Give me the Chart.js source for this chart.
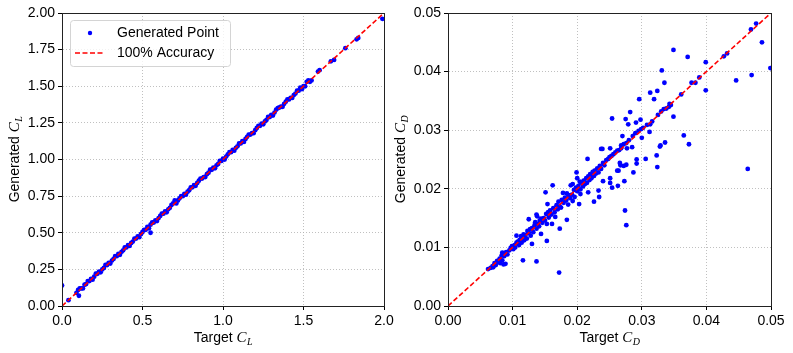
<!DOCTYPE html>
<html>
<head>
<meta charset="utf-8">
<script src="https://cdn.jsdelivr.net/npm/chart.js@4"></script>
<style>
  body { margin: 0; background: #fff; }
  #wrap { position: relative; width: 793px; height: 353px; }
  canvas { position: absolute; top: 0; }
  #clChart { left: 0; }
  #cdChart { left: 388px; }
</style>
</head>
<body>
<div id="wrap">
  <canvas id="clChart" width="400" height="353"></canvas>
  <canvas id="cdChart" width="405" height="353"></canvas>
</div>
<script>
// Lift coefficient: target vs generated
const clTarget = [
  0.00, 0.04, 0.09, 0.10, 0.105, 0.11, 0.12, 0.14, 0.15, 0.17,
  0.18, 0.20, 0.22, 0.23, 0.25, 0.26, 0.28, 0.29, 0.31, 0.32,
  0.34, 0.35, 0.37, 0.38, 0.40, 0.41, 0.43, 0.44, 0.46, 0.47,
  0.49, 0.50, 0.52, 0.53, 0.55, 0.55, 0.57, 0.58, 0.60, 0.61,
  0.63, 0.64, 0.66, 0.67, 0.69, 0.70, 0.72, 0.73, 0.75, 0.76,
  0.78, 0.79, 0.81, 0.82, 0.84, 0.85, 0.87, 0.88, 0.90, 0.91,
  0.93, 0.94, 0.96, 0.97, 0.99, 1.00, 1.02, 1.03, 1.05, 1.06,
  1.08, 1.09, 1.11, 1.12, 1.14, 1.15, 1.17, 1.18, 1.20, 1.21,
  1.23, 1.24, 1.26, 1.27, 1.29, 1.30, 1.32, 1.33, 1.35, 1.36,
  1.38, 1.39, 1.41, 1.42, 1.44, 1.45, 1.47, 1.48, 1.50, 1.51,
  1.53, 1.54, 1.55, 1.59, 1.60, 1.67, 1.69, 1.76, 1.83, 1.84,
  1.99,
  0.13, 0.16, 0.19, 0.21, 0.24, 0.27, 0.30, 0.33, 0.36, 0.39,
  0.42, 0.45, 0.48, 0.51, 0.54, 0.56, 0.59, 0.62, 0.65, 0.68,
  0.71, 0.74, 0.77, 0.80, 0.83, 0.86, 0.89, 0.92, 0.95, 0.98,
  1.01, 1.04, 1.07, 1.10, 1.13, 1.16, 1.19, 1.22, 1.25, 1.28,
  1.31, 1.34, 1.37, 1.40, 1.43, 1.46, 1.49, 1.52
];
const clGenerated = [
  0.14, 0.04, 0.09, 0.11, 0.07, 0.12, 0.12, 0.145, 0.15, 0.17,
  0.185, 0.20, 0.22, 0.235, 0.25, 0.26, 0.28, 0.295, 0.31, 0.32,
  0.34, 0.355, 0.37, 0.38, 0.40, 0.415, 0.43, 0.44, 0.46, 0.475,
  0.49, 0.505, 0.52, 0.54, 0.50, 0.555, 0.57, 0.585, 0.60, 0.615,
  0.63, 0.645, 0.66, 0.67, 0.70, 0.72, 0.72, 0.735, 0.75, 0.765,
  0.78, 0.79, 0.81, 0.825, 0.84, 0.855, 0.87, 0.88, 0.90, 0.91,
  0.93, 0.945, 0.96, 0.97, 0.99, 1.005, 1.02, 1.035, 1.05, 1.065,
  1.08, 1.09, 1.11, 1.125, 1.14, 1.155, 1.17, 1.18, 1.20, 1.215,
  1.23, 1.245, 1.26, 1.27, 1.29, 1.305, 1.32, 1.34, 1.355, 1.36,
  1.38, 1.395, 1.41, 1.42, 1.44, 1.45, 1.47, 1.49, 1.50, 1.50,
  1.54, 1.53, 1.54, 1.60, 1.61, 1.67, 1.68, 1.76, 1.82, 1.83,
  1.96,
  0.12, 0.17, 0.18, 0.22, 0.23, 0.28, 0.29, 0.34, 0.35, 0.40,
  0.41, 0.46, 0.47, 0.52, 0.53, 0.57, 0.58, 0.63, 0.64, 0.69,
  0.70, 0.75, 0.76, 0.81, 0.82, 0.87, 0.88, 0.93, 0.94, 0.99,
  1.00, 1.05, 1.06, 1.11, 1.12, 1.17, 1.18, 1.23, 1.24, 1.29,
  1.30, 1.35, 1.36, 1.41, 1.42, 1.47, 1.48, 1.53
];

// Drag coefficient: target vs generated
const cdTarget = [
  0.0062, 0.0066, 0.0069, 0.0070, 0.0072, 0.0074, 0.0076, 0.0078, 0.0080, 0.0081,
  0.0083, 0.0084, 0.0085, 0.0087, 0.0089, 0.0090, 0.0092, 0.0095, 0.0097, 0.0099,
  0.0101, 0.0103, 0.0104, 0.0106, 0.0108, 0.0110, 0.0111, 0.0113, 0.0114, 0.0116,
  0.0117, 0.0118, 0.0120, 0.0122, 0.0123, 0.0125, 0.0127, 0.0128, 0.0130, 0.0132,
  0.0134, 0.0135, 0.0137, 0.0138, 0.0139, 0.0141, 0.0142, 0.0144, 0.0146, 0.0148,
  0.0150, 0.0152, 0.0153, 0.0155, 0.0156, 0.0158, 0.0160, 0.0161, 0.0163, 0.0165,
  0.0166, 0.0168, 0.0170, 0.0171, 0.0173, 0.0175, 0.0176, 0.0178, 0.0179, 0.0181,
  0.0183, 0.0184, 0.0186, 0.0187, 0.0189, 0.0190, 0.0192, 0.0193, 0.0195, 0.0196,
  0.0198, 0.0200, 0.0202, 0.0204, 0.0205, 0.0207, 0.0209, 0.0210, 0.0212, 0.0214,
  0.0215, 0.0217, 0.0219, 0.0220, 0.0222, 0.0224, 0.0226, 0.0227, 0.0229, 0.0231,
  0.0233, 0.0235, 0.0237, 0.0240, 0.0242, 0.0245, 0.0248, 0.0250, 0.0253, 0.0256,
  0.0259, 0.0262, 0.0265, 0.0268, 0.0272, 0.0276, 0.0280, 0.0286, 0.0290, 0.0295,
  0.0299, 0.0302, 0.0308, 0.0316, 0.0325, 0.0330, 0.0334, 0.0338, 0.0342, 0.0345,
  0.0349, 0.0371, 0.0469, 0.0477, 0.0486, 0.0499, 0.0446, 0.0470, 0.0427, 0.0432,
  0.0399, 0.0399, 0.0389, 0.0377, 0.0383, 0.0361, 0.0331, 0.0335, 0.0313, 0.0324,
  0.0319, 0.0296, 0.0343, 0.0349, 0.0282, 0.0254, 0.0275, 0.0279, 0.0291, 0.0298,
  0.0313, 0.0312, 0.0300, 0.0365, 0.0373, 0.0336, 0.0329, 0.0328, 0.0285, 0.0270,
  0.0268, 0.0277, 0.0237, 0.0239, 0.0251, 0.0323, 0.0306, 0.0324, 0.0292, 0.0292,
  0.0287, 0.0464, 0.0276, 0.0272, 0.0266, 0.0267, 0.0262, 0.0264, 0.0273, 0.0263,
  0.0251, 0.0251, 0.0254, 0.0240, 0.0233, 0.0234, 0.0226, 0.0217, 0.0274, 0.0276,
  0.0216, 0.0199, 0.0200, 0.0193, 0.0205, 0.0203, 0.0184, 0.0173, 0.0172, 0.0162,
  0.0151, 0.0154, 0.0153, 0.0144, 0.0137, 0.0116, 0.0130, 0.0125, 0.0137, 0.0106,
  0.0084, 0.0086
];
const cdGenerated = [
  0.0063, 0.0065, 0.0068, 0.0066, 0.0073, 0.0070, 0.0077, 0.0075, 0.0081, 0.0073,
  0.0086, 0.0078, 0.0090, 0.0085, 0.0072, 0.0092, 0.0088, 0.0095, 0.0099, 0.0102,
  0.0097, 0.0104, 0.0100, 0.0108, 0.0110, 0.0104, 0.0113, 0.0119, 0.0108, 0.0117,
  0.0122, 0.0112, 0.0121, 0.0115, 0.0128, 0.0125, 0.0131, 0.0120, 0.0133, 0.0126,
  0.0138, 0.0143, 0.0132, 0.0153, 0.0140, 0.0136, 0.0146, 0.0149, 0.0142, 0.0150,
  0.0146, 0.0157, 0.0140, 0.0160, 0.0151, 0.0163, 0.0156, 0.0140, 0.0167, 0.0160,
  0.0152, 0.0172, 0.0165, 0.0178, 0.0170, 0.0168, 0.0181, 0.0193, 0.0176, 0.0185,
  0.0180, 0.0192, 0.0173, 0.0189, 0.0184, 0.0206, 0.0190, 0.0179, 0.0198, 0.0186,
  0.0202, 0.0196, 0.0205, 0.0212, 0.0199, 0.0210, 0.0204, 0.0214, 0.0208, 0.0218,
  0.0210, 0.0221, 0.0215, 0.0225, 0.0218, 0.0229, 0.0222, 0.0231, 0.0226, 0.0235,
  0.0228, 0.0239, 0.0234, 0.0244, 0.0240, 0.0249, 0.0251, 0.0254, 0.0256, 0.0259,
  0.0262, 0.0265, 0.0266, 0.0269, 0.0276, 0.0278, 0.0283, 0.0290, 0.0295, 0.0299,
  0.0302, 0.0304, 0.0309, 0.0315, 0.0326, 0.0332, 0.0336, 0.0337, 0.0340, 0.0343,
  0.0437, 0.0425, 0.0472, 0.0482, 0.0450, 0.0406, 0.0385, 0.0394, 0.0426, 0.0431,
  0.0416, 0.0368, 0.0390, 0.0381, 0.0381, 0.0361, 0.0402, 0.0381, 0.0364, 0.0367,
  0.0353, 0.0353, 0.0345, 0.0323, 0.0331, 0.0320, 0.0319, 0.0310, 0.0313, 0.0318,
  0.0310, 0.0297, 0.0287, 0.0291, 0.0276, 0.0279, 0.0274, 0.0272, 0.0271, 0.0290,
  0.0274, 0.0269, 0.0268, 0.0268, 0.0269, 0.0257, 0.0251, 0.0237, 0.0250, 0.0243,
  0.0228, 0.0234, 0.0241, 0.0239, 0.0244, 0.0240, 0.0231, 0.0231, 0.0213, 0.0205,
  0.0218, 0.0210, 0.0202, 0.0213, 0.0197, 0.0186, 0.0178, 0.0194, 0.0163, 0.0138,
  0.0251, 0.0228, 0.0218, 0.0208, 0.0191, 0.0174, 0.0147, 0.0132, 0.0057, 0.0206,
  0.0194, 0.0174, 0.0111, 0.0123, 0.0076, 0.0078, 0.0106, 0.0148, 0.0156, 0.0120,
  0.0091, 0.0071
];

const BLUE = '#0000ff';
const RED = '#ff0000';
const TICK_FONT = '"Liberation Sans", Arial, sans-serif';

Chart.defaults.font.family = TICK_FONT;
Chart.defaults.font.size = 14;
Chart.defaults.color = '#000';

function toPoints(xs, ys) {
    return xs.map((x, i) => ({ x: x, y: ys[i] }));
}

function makeAxis(max, step, digits, fitSize, isY) {
    return {
        type: 'linear',
        min: 0,
        max: max,
        ticks: {
            stepSize: step,
            padding: 3,
            maxRotation: 0,
            autoSkip: false,
            color: '#000',
            callback: v => Number(v).toFixed(digits)
        },
        grid: {
            color: '#b0b0b0',
            lineWidth: 0.8,
            tickColor: '#000',
            tickLength: 4,
            tickWidth: 1
        },
        border: { color: '#000', width: 1, dash: [1, 2] },
        afterFit: scale => {
            if (isY) scale.width = fitSize; else scale.height = fitSize;
        }
    };
}

// axis title with italic C and subscript, e.g. "Target C_L"
function drawAxisTitle(ctx, x, y, rotate, base, sub) {
    const mainFont = '14px ' + TICK_FONT;
    const cFont = 'italic 15px "Liberation Serif", serif';
    const subFont = 'italic 10px "Liberation Serif", serif';
    ctx.save();
    ctx.font = mainFont;
    const w1 = ctx.measureText(base).width;
    ctx.font = cFont;
    const w2 = ctx.measureText('C').width;
    ctx.font = subFont;
    const w3 = ctx.measureText(sub).width;
    const total = w1 + w2 + w3;
    ctx.translate(x, y);
    if (rotate) ctx.rotate(-Math.PI / 2);
    ctx.fillStyle = '#000';
    ctx.textAlign = 'left';
    ctx.textBaseline = 'alphabetic';
    let cx = -total / 2;
    ctx.font = mainFont;
    ctx.fillText(base, cx, 0);
    cx += w1;
    ctx.font = cFont;
    ctx.fillText('C', cx, 0);
    cx += w2 + 0.5;
    ctx.font = subFont;
    ctx.fillText(sub, cx, 3);
    ctx.restore();
}

const framePlugin = {
    id: 'frame',
    afterDraw(chart, args, opts) {
        const { ctx, chartArea: a } = chart;
        ctx.save();
        ctx.strokeStyle = '#222';
        ctx.lineWidth = 1;
        ctx.strokeRect(Math.round(a.left) + 0.5, Math.round(a.top) + 0.5,
            Math.round(a.right - a.left), Math.round(a.bottom - a.top));
        ctx.restore();
        const mid = (a.left + a.right) / 2;
        drawAxisTitle(ctx, mid, 342, false, 'Target ', opts.sub);
        drawAxisTitle(ctx, opts.yTitleX, (a.top + a.bottom) / 2, true, 'Generated ', opts.sub);
    }
};

const legendPlugin = {
    id: 'boxLegend',
    afterDraw(chart) {
        const ctx = chart.ctx;
        ctx.save();
        ctx.beginPath();
        ctx.roundRect(70.5, 20.5, 160, 46, 3);
        ctx.fillStyle = 'rgba(255,255,255,0.8)';
        ctx.fill();
        ctx.strokeStyle = '#d4d4d4';
        ctx.lineWidth = 1;
        ctx.stroke();

        ctx.beginPath();
        ctx.arc(90, 33, 2.2, 0, Math.PI * 2);
        ctx.fillStyle = BLUE;
        ctx.fill();

        ctx.beginPath();
        ctx.setLineDash([5, 2.5]);
        ctx.moveTo(75, 53);
        ctx.lineTo(105, 53);
        ctx.strokeStyle = RED;
        ctx.lineWidth = 1.5;
        ctx.stroke();
        ctx.setLineDash([]);

        ctx.fillStyle = '#000';
        ctx.font = '14px ' + TICK_FONT;
        ctx.textBaseline = 'middle';
        ctx.fillText('Generated Point', 117, 33);
        ctx.fillText('100% Accuracy', 117, 53);
        ctx.restore();
    }
};

function makeChart(id, xs, ys, max, xStep, xDigits, yStep, yDigits, yWidth, padRight, sub, yTitleX, extra) {
    const ctx = document.getElementById(id).getContext('2d');
    return new Chart(ctx, {
        type: 'scatter',
        data: {
            datasets: [
                {
                    type: 'line',
                    label: '100% Accuracy',
                    data: [{ x: 0, y: 0 }, { x: max, y: max }],
                    borderColor: RED,
                    borderWidth: 1.6,
                    borderDash: [5, 2.5],
                    pointRadius: 0,
                    fill: false,
                    order: 0
                },
                {
                    label: 'Generated Point',
                    data: toPoints(xs, ys),
                    backgroundColor: BLUE,
                    borderWidth: 0,
                    pointRadius: 2.4,
                    order: 1
                }
            ]
        },
        options: {
            responsive: false,
            animation: false,
            layout: { padding: { left: 0, right: padRight, top: 13, bottom: 0 } },
            scales: {
                x: makeAxis(max, xStep, xDigits, 47, false),
                y: makeAxis(max, yStep, yDigits, yWidth, true)
            },
            plugins: {
                legend: { display: false },
                tooltip: { enabled: false },
                frame: { sub: sub, yTitleX: yTitleX }
            }
        },
        plugins: extra ? [framePlugin, legendPlugin] : [framePlugin]
    });
}

makeChart('clChart', clTarget, clGenerated, 2, 0.5, 1, 0.25, 2, 62, 16, 'L', 18.5, true);
makeChart('cdChart', cdTarget, cdGenerated, 0.05, 0.01, 2, 0.01, 2, 60, 22, 'D', 17.2, false);
</script>
</body>
</html>
